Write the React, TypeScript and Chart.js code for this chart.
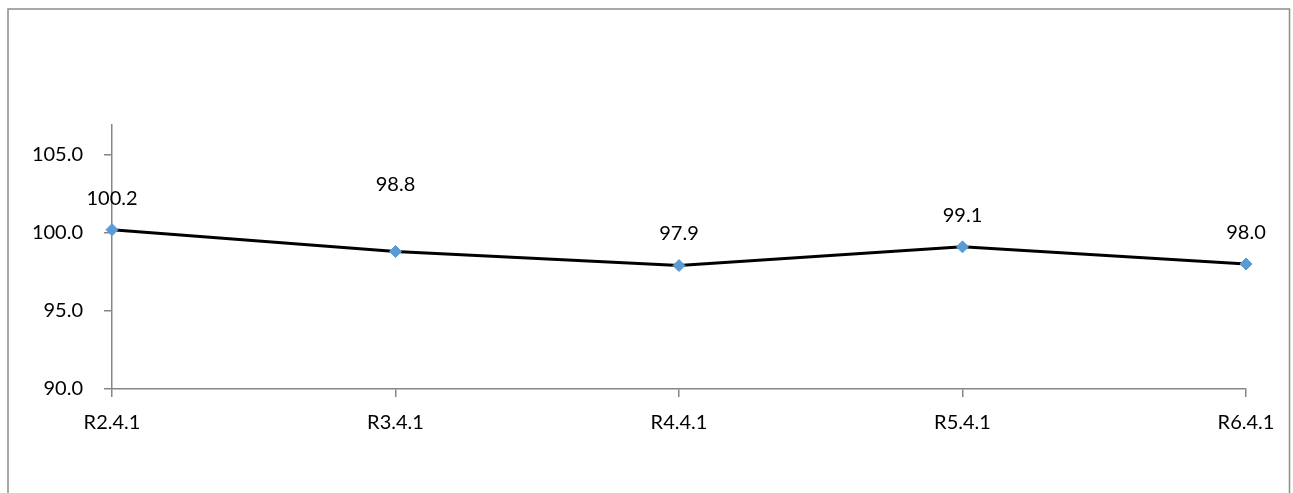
import React, { useEffect, useRef } from "react";
import { Chart, registerables } from "chart.js";

Chart.register(...registerables);

const categories = ["R2.4.1", "R3.4.1", "R4.4.1", "R5.4.1", "R6.4.1"];
const values = [100.2, 98.8, 97.9, 99.1, 98.0];
const yTicks = [90, 95, 100, 105];
const yMin = 90;
const yMax = 106.9;

// style: vertical distance (px) of each value label above its point
const labelOffsets = [31, 67, 32, 31, 31];

const FONT = "Lato, 'Open Sans', sans-serif";
const AXIS_COLOR = "#868686";

const frameAndLabels = {
  id: "frameAndLabels",
  afterDraw(chart: any) {
    const ctx = chart.ctx;
    ctx.save();
    // outer frame (bottom edge lies below the visible area)
    ctx.strokeStyle = "#8c8c8c";
    ctx.lineWidth = 1.5;
    ctx.strokeRect(8, 9, 1281.5, 600);
    // value labels
    const meta = chart.getDatasetMeta(0);
    ctx.fillStyle = "#000";
    ctx.font = `20px ${FONT}`;
    ctx.textAlign = "center";
    ctx.textBaseline = "middle";
    meta.data.forEach((pt: any, i: number) => {
      ctx.fillText(values[i].toFixed(1), pt.x, pt.y - labelOffsets[i]);
    });
    ctx.restore();
  },
};

export default function App() {
  const ref = useRef<HTMLCanvasElement | null>(null);

  useEffect(() => {
    if (!ref.current) return;
    const chart = new Chart(ref.current, {
      type: "line",
      data: {
        labels: categories,
        datasets: [
          {
            data: values,
            borderColor: "#000",
            borderWidth: 3,
            pointStyle: "rectRot",
            pointRadius: 6,
            pointBackgroundColor: "#5B9BD5",
            pointBorderColor: "#5B9BD5",
            pointBorderWidth: 1,
            tension: 0,
          },
        ],
      },
      options: {
        animation: false,
        responsive: false,
        devicePixelRatio: 1,
        layout: { padding: { top: 125, right: 47, left: 0, bottom: 0 } },
        plugins: {
          legend: { display: false },
          tooltip: { enabled: false },
        },
        scales: {
          x: {
            offset: false,
            grid: {
              drawOnChartArea: false,
              drawTicks: true,
              tickLength: 8,
              color: AXIS_COLOR,
              lineWidth: 1.5,
            },
            border: { display: true, color: AXIS_COLOR, width: 1.5 },
            ticks: {
              color: "#000",
              font: { family: FONT, size: 20 },
              padding: 14,
              maxRotation: 0,
              autoSkip: false,
            },
            afterFit(scale: any) {
              scale.height = 104;
            },
          },
          y: {
            min: yMin,
            max: yMax,
            afterBuildTicks(scale: any) {
              scale.ticks = yTicks.map((v) => ({ value: v }));
            },
            grid: {
              drawOnChartArea: false,
              drawTicks: true,
              tickLength: 8,
              color: AXIS_COLOR,
              lineWidth: 1.5,
            },
            border: { display: true, color: AXIS_COLOR, width: 1.5 },
            ticks: {
              color: "#000",
              font: { family: FONT, size: 20 },
              padding: 21,
              callback: (v: any) => Number(v).toFixed(1),
            },
            afterFit(scale: any) {
              scale.width = 112;
            },
          },
        },
      },
      plugins: [frameAndLabels],
    });
    return () => chart.destroy();
  }, []);

  return (
    <div
      style={{
        position: "fixed",
        left: 0,
        top: 0,
        width: 1293,
        height: 493,
        overflow: "hidden",
        background: "#fff",
      }}
    >
      <canvas ref={ref} width={1293} height={493} style={{ display: "block" }} />
    </div>
  );
}
